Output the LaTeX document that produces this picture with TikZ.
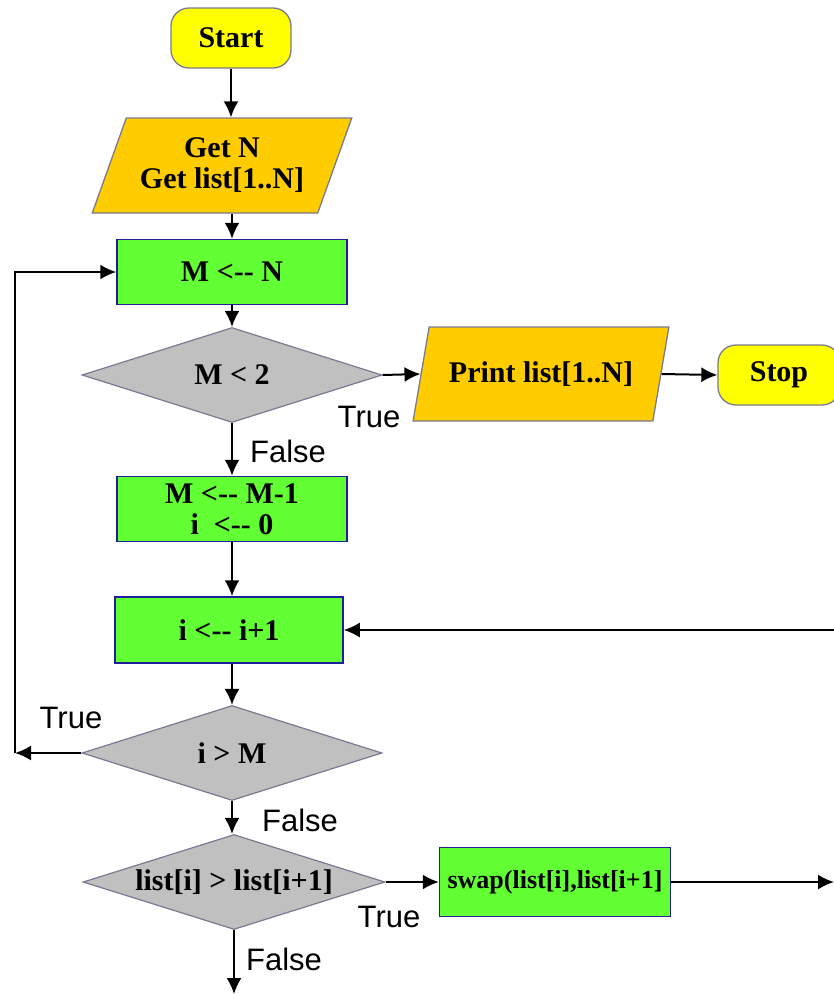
\documentclass[tikz,border=0pt]{standalone}
\usepackage{fontspec}
\setmainfont{Liberation Serif}
\newfontfamily\lblfont{Liberation Sans}
\usetikzlibrary{shapes.geometric,arrows.meta}
\definecolor{yel}{HTML}{FFFF00}
\definecolor{org}{HTML}{FFCC00}
\definecolor{grn}{HTML}{61FF33}
\definecolor{gry}{HTML}{C0C0C0}
\definecolor{navy}{HTML}{1F1F99}
\definecolor{bgray}{HTML}{7A7A90}
\newcommand\la{<\mbox{-}\mbox{-}}
\begin{document}
\begin{tikzpicture}[x=1pt,y=-1pt,
  boxtext/.style={font=\bfseries\fontsize{30}{31}\selectfont},
  term/.style={boxtext, rectangle, rounded corners=18pt, fill=yel, draw=bgray, line width=1.3pt, minimum width=120pt, minimum height=60pt},
  io/.style={boxtext, trapezium, trapezium left angle=62, trapezium right angle=118, trapezium stretches=true, fill=org, draw=bgray, line width=1.3pt, minimum height=95pt, inner sep=0pt, align=center},
  proc/.style={boxtext, rectangle, fill=grn, draw=navy, line width=1.5pt, minimum width=230pt, minimum height=65pt, inner sep=0pt, align=center},
  dec/.style={boxtext, diamond, aspect=3.15, fill=gry, draw=bgray, line width=1.2pt, minimum width=300pt, minimum height=95pt, inner sep=0pt},
  lbl/.style={font=\lblfont\fontsize{31}{31}\selectfont, inner sep=0pt, anchor=base},
  arr/.style={-{Latex[length=16pt,width=15pt]}, line width=2pt}]
\useasboundingbox (0,0) rectangle (834,994);
\clip (0,0) rectangle (834,994);
\fill[white] (0,0) rectangle (834,994);

\node[term] (start) at (231,38) {Start};
\node[io, minimum width=260pt] (getn) at (222,165.5) {Get N\\Get list[1..N]};
\node[proc] (r1) at (232,272) {M \la{} N};
\node[dec] (d1) at (232,375) {\makebox[0pt]{M < 2}};
\node[io, minimum width=256pt, minimum height=94pt] (print) at (541,374) {Print list[1..N]};
\node[term, minimum width=122pt] (stop) at (779,375) {Stop};
\node[proc] (r2) at (232,509) {M \la{} M-1\\i \ \la{} 0};
\node[proc, minimum width=228pt, minimum height=66pt] (r3) at (229,630) {i \la{} i+1};
\node[dec] (d2) at (232,753) {\makebox[0pt]{i > M}};
\node[dec, minimum width=302pt] (d3) at (234,882) {\makebox[0pt]{list[i] > list[i+1]}};
\node[proc, font=\bfseries\fontsize{26}{27}\selectfont, minimum width=231pt, minimum height=69pt] (swap) at (555,882) {swap(list[i],list[i+1]};

\coordinate (loopL) at (15,753);
\coordinate (loopR) at (834,630);
\coordinate (swapR) at (834,882);
\coordinate (bot) at (234,994);

\draw[arr] (start) -- (start |- getn.north);
\draw[arr] (r1.north |- getn.south) -- (r1.north);
\draw[arr] (r1) -- (d1);
\draw[arr] (d1) -- (r2);
\draw[arr] (r2.south) -- (r2.south |- r3.north);
\draw[arr] (d2 |- r3.south) -- (d2);
\draw[arr] (d2.south) -- (d2.south |- d3.north);
\draw[arr] (d1.east) -- (print.west);
\draw[arr] (print.east) -- (stop.west);
\draw[arr] (d3.east) -- (swap.west);
\draw[arr] (swap.east) -- (swapR);
\draw[arr] (loopR) -- (r3.east);
\draw[arr] (d2.west) -- (loopL);
\draw[arr] (loopL) |- (r1.west);
\draw[arr] (d3.south) -- (d3.south |- bot);

\node[lbl] (t1) at (369,427) {True};
\node[lbl] (f1) at (288,462) {False};
\node[lbl] (t2) at (71,728) {True};
\node[lbl] (f2) at (300,831) {False};
\node[lbl] (t3) at (389,927) {True};
\node[lbl] (f3) at (284,970) {False};
\end{tikzpicture}
\end{document}
